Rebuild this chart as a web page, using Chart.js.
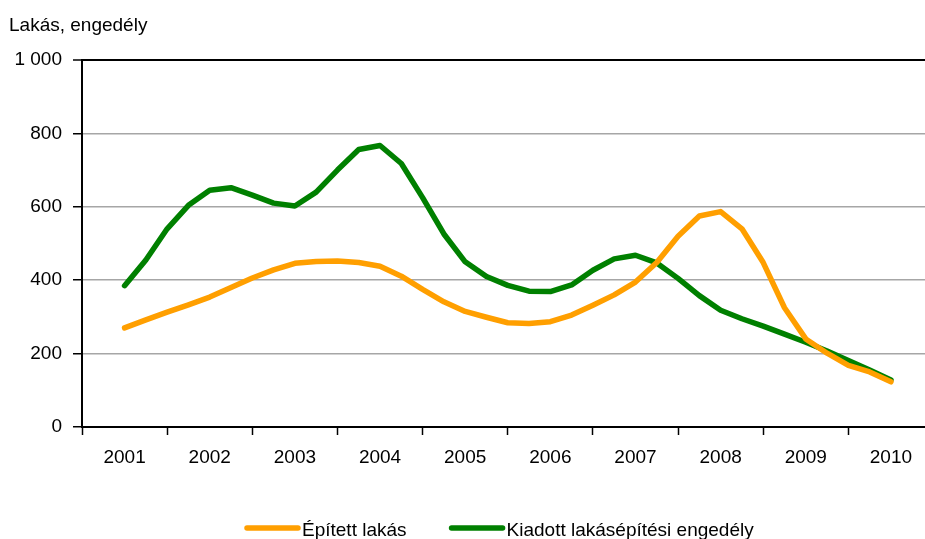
<!DOCTYPE html>
<html>
<head>
<meta charset="utf-8">
<script src="https://cdn.jsdelivr.net/npm/chart.js@4/dist/chart.umd.min.js"></script>
<style>
  html, body { margin: 0; padding: 0; background: #fff; }
  #wrap { width: 925px; height: 539px; }
</style>
</head>
<body>
<div id="wrap"><canvas id="chart"></canvas></div>
<script>
// évek (kategóriák) és negyedéves adatok
const years = ['2001', '2002', '2003', '2004', '2005', '2006', '2007', '2008', '2009', '2010'];
const seriesNames = ['Épített lakás', 'Kiadott lakásépítési engedély'];
const epitett = [270, 292, 313, 333, 354, 380, 406, 428, 446, 451, 452, 448, 438, 411, 375, 341, 315, 299,
                 284, 282, 287, 305, 332, 360, 395, 448, 520, 575, 587, 540, 448, 325, 240, 201, 168, 150, 123];
const engedely = [385, 455, 540, 604, 645, 652, 632, 610, 602, 640, 700, 756, 767, 718, 625, 526, 450, 410,
                  386, 370, 369, 387, 427, 458, 468, 447, 405, 358, 318, 295, 275, 253, 231, 207, 181, 155, 128];
const yTicks = [0, 200, 400, 600, 800, 1000];
const yAxisTitle = 'Lakás, engedély';

// szűkített betű, ha van
function pickFont() {
    const c = document.createElement('canvas').getContext('2d');
    c.font = '20px monospace';
    const w1 = c.measureText('abcdefghij 2001').width;
    c.font = '20px "Liberation Sans Narrow", monospace';
    const w2 = c.measureText('abcdefghij 2001').width;
    if (Math.abs(w1 - w2) > 0.5) return { family: '"Liberation Sans Narrow", "Liberation Sans", Arial, sans-serif', size: 21 };
    return { family: '"Liberation Sans", Arial, sans-serif', size: 19 };
}
const F = pickFont();

function fmt(v) {
    return String(v).replace(/\B(?=(\d{3})+(?!\d))/g, ' ');
}

// negyedévek x pozíciója: az év közepétől indul
const toPoints = arr => arr.map((v, i) => ({ x: 0.5 + i / 4, y: v }));

// felső felirat és jelmagyarázat
const decor = {
    id: 'decor',
    afterDraw(chart) {
        const ctx = chart.ctx;
        ctx.save();
        ctx.fillStyle = '#000';
        ctx.font = F.size + 'px ' + F.family;
        ctx.textBaseline = 'alphabetic';
        ctx.textAlign = 'left';
        ctx.fillText(yAxisTitle, 9, 31);

        let x = 245;
        chart.data.datasets.forEach(ds => {
            ctx.strokeStyle = ds.borderColor;
            ctx.lineWidth = 5.5;
            ctx.lineCap = 'round';
            ctx.beginPath();
            ctx.moveTo(x + 2, 528);
            ctx.lineTo(x + 53, 528);
            ctx.stroke();
            ctx.fillText(ds.label, x + 57, 536);
            x += 57 + ctx.measureText(ds.label).width + 43;
        });
        ctx.restore();
    }
};

new Chart(document.getElementById('chart'), {
    type: 'line',
    data: {
        datasets: [
            {
                label: seriesNames[0],
                data: toPoints(epitett),
                borderColor: '#FF9F00',
                borderWidth: 5.5,
                pointRadius: 0,
                tension: 0,
                borderJoinStyle: 'round',
                borderCapStyle: 'round'
            },
            {
                label: seriesNames[1],
                data: toPoints(engedely),
                borderColor: '#008000',
                borderWidth: 5.5,
                pointRadius: 0,
                tension: 0,
                borderJoinStyle: 'round',
                borderCapStyle: 'round'
            }
        ]
    },
    options: {
        responsive: true,
        maintainAspectRatio: false,
        animation: false,
        layout: { padding: { top: 60, left: 0, right: 0, bottom: 62 } },
        plugins: {
            legend: { display: false },
            tooltip: { enabled: false }
        },
        scales: {
            x: {
                type: 'linear',
                min: 0,
                max: 9.9,
                afterBuildTicks: scale => {
                    const t = [];
                    for (let v = 0; v < years.length; v += 0.5) t.push({ value: v });
                    scale.ticks = t;
                },
                afterFit: scale => { scale.height = 50; },
                grid: {
                    drawOnChartArea: false,
                    tickLength: 8,
                    tickWidth: 1.5,
                    tickColor: c => (c.tick && c.tick.value % 1 === 0) ? '#000' : 'rgba(0,0,0,0)'
                },
                border: { color: '#000', width: 2 },
                ticks: {
                    autoSkip: false,
                    maxRotation: 0,
                    padding: 11,
                    color: '#000',
                    font: { family: F.family, size: F.size },
                    callback: v => (v % 1 === 0.5) ? years[Math.floor(v)] : ''
                }
            },
            y: {
                min: 0,
                max: 1000,
                afterBuildTicks: scale => { scale.ticks = yTicks.map(v => ({ value: v })); },
                afterFit: scale => { scale.width = 82; },
                grid: {
                    color: c => c.tick && c.tick.value === 1000 ? '#000' : '#A6A6A6',
                    lineWidth: c => c.tick && c.tick.value === 1000 ? 2 : 1.5,
                    tickLength: 9,
                    tickColor: '#000',
                    tickWidth: 1.5
                },
                border: { color: '#000', width: 2 },
                ticks: {
                    padding: 11,
                    color: '#000',
                    font: { family: F.family, size: F.size },
                    callback: v => fmt(v)
                }
            }
        }
    },
    plugins: [decor]
});
</script>
</body>
</html>
